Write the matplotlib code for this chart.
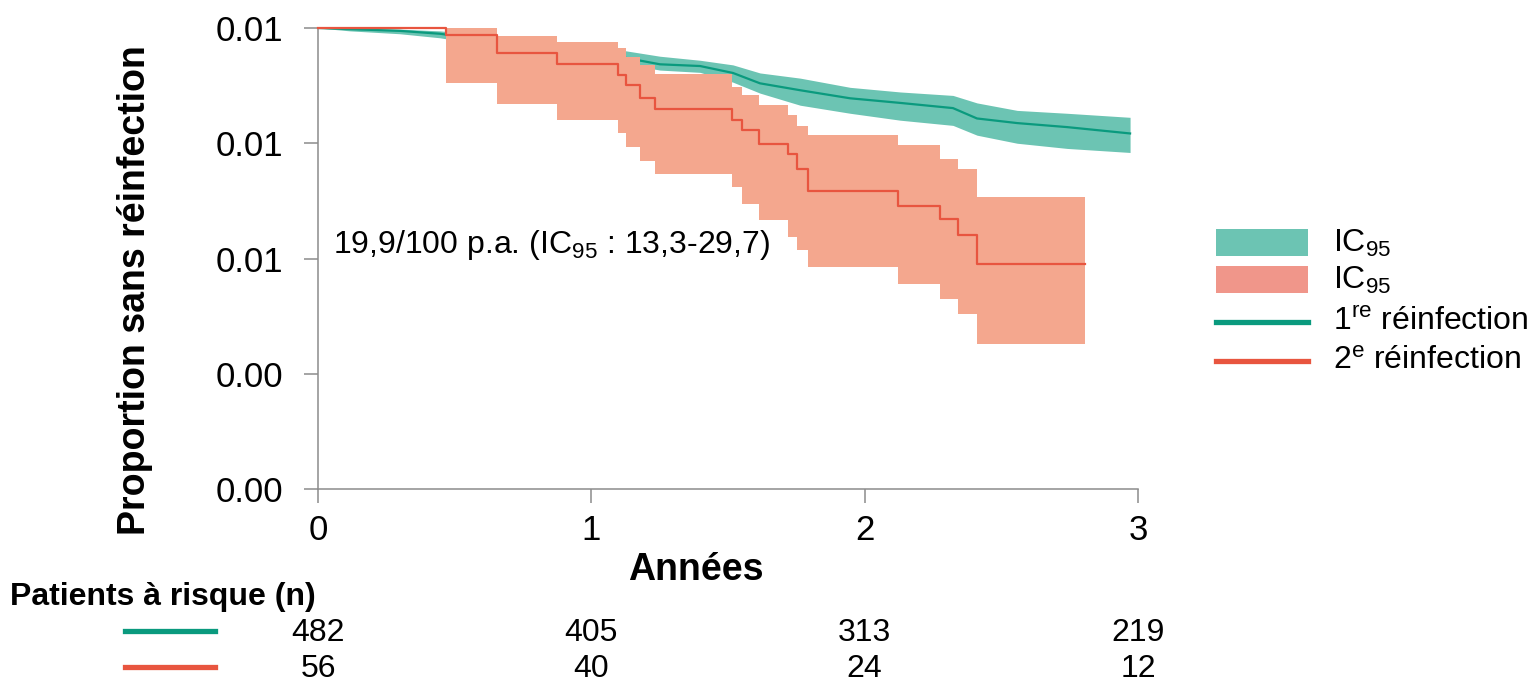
import matplotlib
matplotlib.use('Agg')
import matplotlib.pyplot as plt
from matplotlib.patches import Rectangle
from matplotlib.lines import Line2D
import matplotlib.transforms as mtransforms

plt.rcParams['font.family'] = ['Liberation Sans', 'DejaVu Sans']
plt.rcParams['mathtext.fontset'] = 'custom'
plt.rcParams['mathtext.rm'] = 'Liberation Sans'
plt.rcParams['mathtext.it'] = 'Liberation Sans:italic'
plt.rcParams['mathtext.bf'] = 'Liberation Sans:bold'

# 1re réinfection (green)
green_t = [0, 0.117, 0.300, 0.446, 0.666, 0.885, 1.105, 1.251, 1.398, 1.518,
           1.617, 1.764, 1.947, 2.130, 2.323, 2.411, 2.558, 2.741, 2.971]
green_s = [1.000, 0.998, 0.995, 0.990, 0.976, 0.965, 0.950, 0.937, 0.934, 0.922,
           0.904, 0.892, 0.878, 0.870, 0.861, 0.843, 0.835, 0.828, 0.817]
green_hi = [1.000, 1.000, 0.998, 0.995, 0.986, 0.974, 0.962, 0.951, 0.944, 0.936,
            0.922, 0.913, 0.897, 0.889, 0.883, 0.870, 0.857, 0.852, 0.845]
green_lo = [1.000, 0.995, 0.990, 0.983, 0.966, 0.955, 0.939, 0.927, 0.923, 0.906,
            0.887, 0.866, 0.852, 0.840, 0.831, 0.814, 0.800, 0.791, 0.784]

# 2e réinfection (red), step curve
red_t = [0, 0.468, 0.655, 0.875, 1.098, 1.127, 1.178, 1.233, 1.516, 1.550,
         1.615, 1.721, 1.752, 1.794, 2.123, 2.276, 2.343, 2.410, 2.806]
red_s = [1.000, 0.987, 0.957, 0.937, 0.918, 0.901, 0.878, 0.859, 0.840, 0.823,
         0.799, 0.782, 0.756, 0.717, 0.691, 0.669, 0.640, 0.591, 0.591]
red_hi = [1.000, 1.000, 0.986, 0.976, 0.965, 0.950, 0.936, 0.920, 0.898, 0.883,
          0.866, 0.849, 0.830, 0.814, 0.797, 0.773, 0.756, 0.707, 0.707]
red_lo = [1.000, 0.904, 0.868, 0.840, 0.817, 0.793, 0.769, 0.747, 0.724, 0.695,
          0.666, 0.637, 0.614, 0.585, 0.556, 0.530, 0.504, 0.452, 0.452]

x_ticks = [0, 1, 2, 3]
y_ticks = [1.0, 0.8, 0.6, 0.4, 0.2]
y_tick_labels = ['0.01', '0.01', '0.01', '0.00', '0.00']

at_risk_1 = [482, 405, 313, 219]
at_risk_2 = [56, 40, 24, 12]

GREEN_BAND = '#6cc4b3'
GREEN_LINE = '#0a9a7e'
RED_BAND = '#f4a78e'
RED_PATCH = '#f0968a'
RED_LINE = '#e8553f'
SPINE = '#8c8c8c'

W, H = 1531, 685
fig = plt.figure(figsize=(W / 100, H / 100), dpi=100)
ax = fig.add_axes([318 / W, 1 - 489 / H, (1138 - 318) / W, (489 - 28) / H])

ax.fill_between(green_t, green_lo, green_hi, color=GREEN_BAND, lw=0, zorder=1)
ax.plot(green_t, green_s, color=GREEN_LINE, lw=1.6, zorder=2)
ax.fill_between(red_t, red_lo, red_hi, step='post', color=RED_BAND, lw=0, zorder=3)
ax.step(red_t, red_s, where='post', color=RED_LINE, lw=1.6, zorder=4, clip_on=False)

ax.set_xlim(0, 3)
ax.set_ylim(0.2, 1.0)
ax.set_xticks(x_ticks)
ax.set_xticklabels([str(v) for v in x_ticks])
ax.set_yticks(y_ticks)
ax.set_yticklabels(y_tick_labels)
ax.tick_params(axis='both', labelsize=25, length=10, width=1.1, color=SPINE)
ax.tick_params(axis='y', pad=15)
ax.tick_params(axis='x', pad=8)
for s in ['top', 'right']:
    ax.spines[s].set_visible(False)
for s in ['left', 'bottom']:
    ax.spines[s].set_color(SPINE)
    ax.spines[s].set_linewidth(1.1)

ax.text(0.055, 0.623, '19,9/100 p.a. (IC$_{95}$ : 13,3-29,7)', fontsize=23,
        ha='left', va='center', zorder=5)

fig.text(135 / W, 1 - 290 / H, 'Proportion sans réinfection', rotation=90,
         fontsize=27, fontweight='bold', ha='center', va='center')
fig.text(696 / W, 1 - 570 / H, 'Années', fontsize=27, fontweight='bold',
         ha='center', va='center')

# legend, drawn by hand
legend_rows = [
    ('patch', GREEN_BAND, 'IC$_{95}$', 243),
    ('patch', RED_PATCH, 'IC$_{95}$', 280),
    ('line', GREEN_LINE, '1$^{\\mathrm{re}}$ réinfection', 322),
    ('line', RED_LINE, '2$^{\\mathrm{e}}$ réinfection', 361),
]
for kind, col, lab, yc in legend_rows:
    if kind == 'patch':
        fig.add_artist(Rectangle((1216 / W, 1 - (yc + 13) / H), 92 / W, 27 / H,
                                 transform=fig.transFigure, color=col, lw=0))
    else:
        fig.add_artist(Line2D([1216 / W, 1308 / W], [1 - yc / H, 1 - yc / H],
                              transform=fig.transFigure, color=col, lw=3.8))
    fig.text(1333 / W, 1 - yc / H, lab, fontsize=23, ha='left', va='center')

# at-risk table
fig.text(10 / W, 1 - 597 / H, 'Patients à risque (n)', fontsize=23,
         fontweight='bold', ha='left', va='center')
trans = mtransforms.blended_transform_factory(ax.transData, fig.transFigure)
for vals, col, yc in [(at_risk_1, GREEN_LINE, 633), (at_risk_2, RED_LINE, 669)]:
    fig.add_artist(Line2D([125 / W, 215 / W], [1 - (yc - 2) / H, 1 - (yc - 2) / H],
                          transform=fig.transFigure, color=col, lw=3.8))
    for xv, n in zip(x_ticks, vals):
        ax.text(xv, 1 - yc / H, str(n), transform=trans, fontsize=23,
                ha='center', va='center', clip_on=False)

fig.savefig('out.png', dpi=100)
